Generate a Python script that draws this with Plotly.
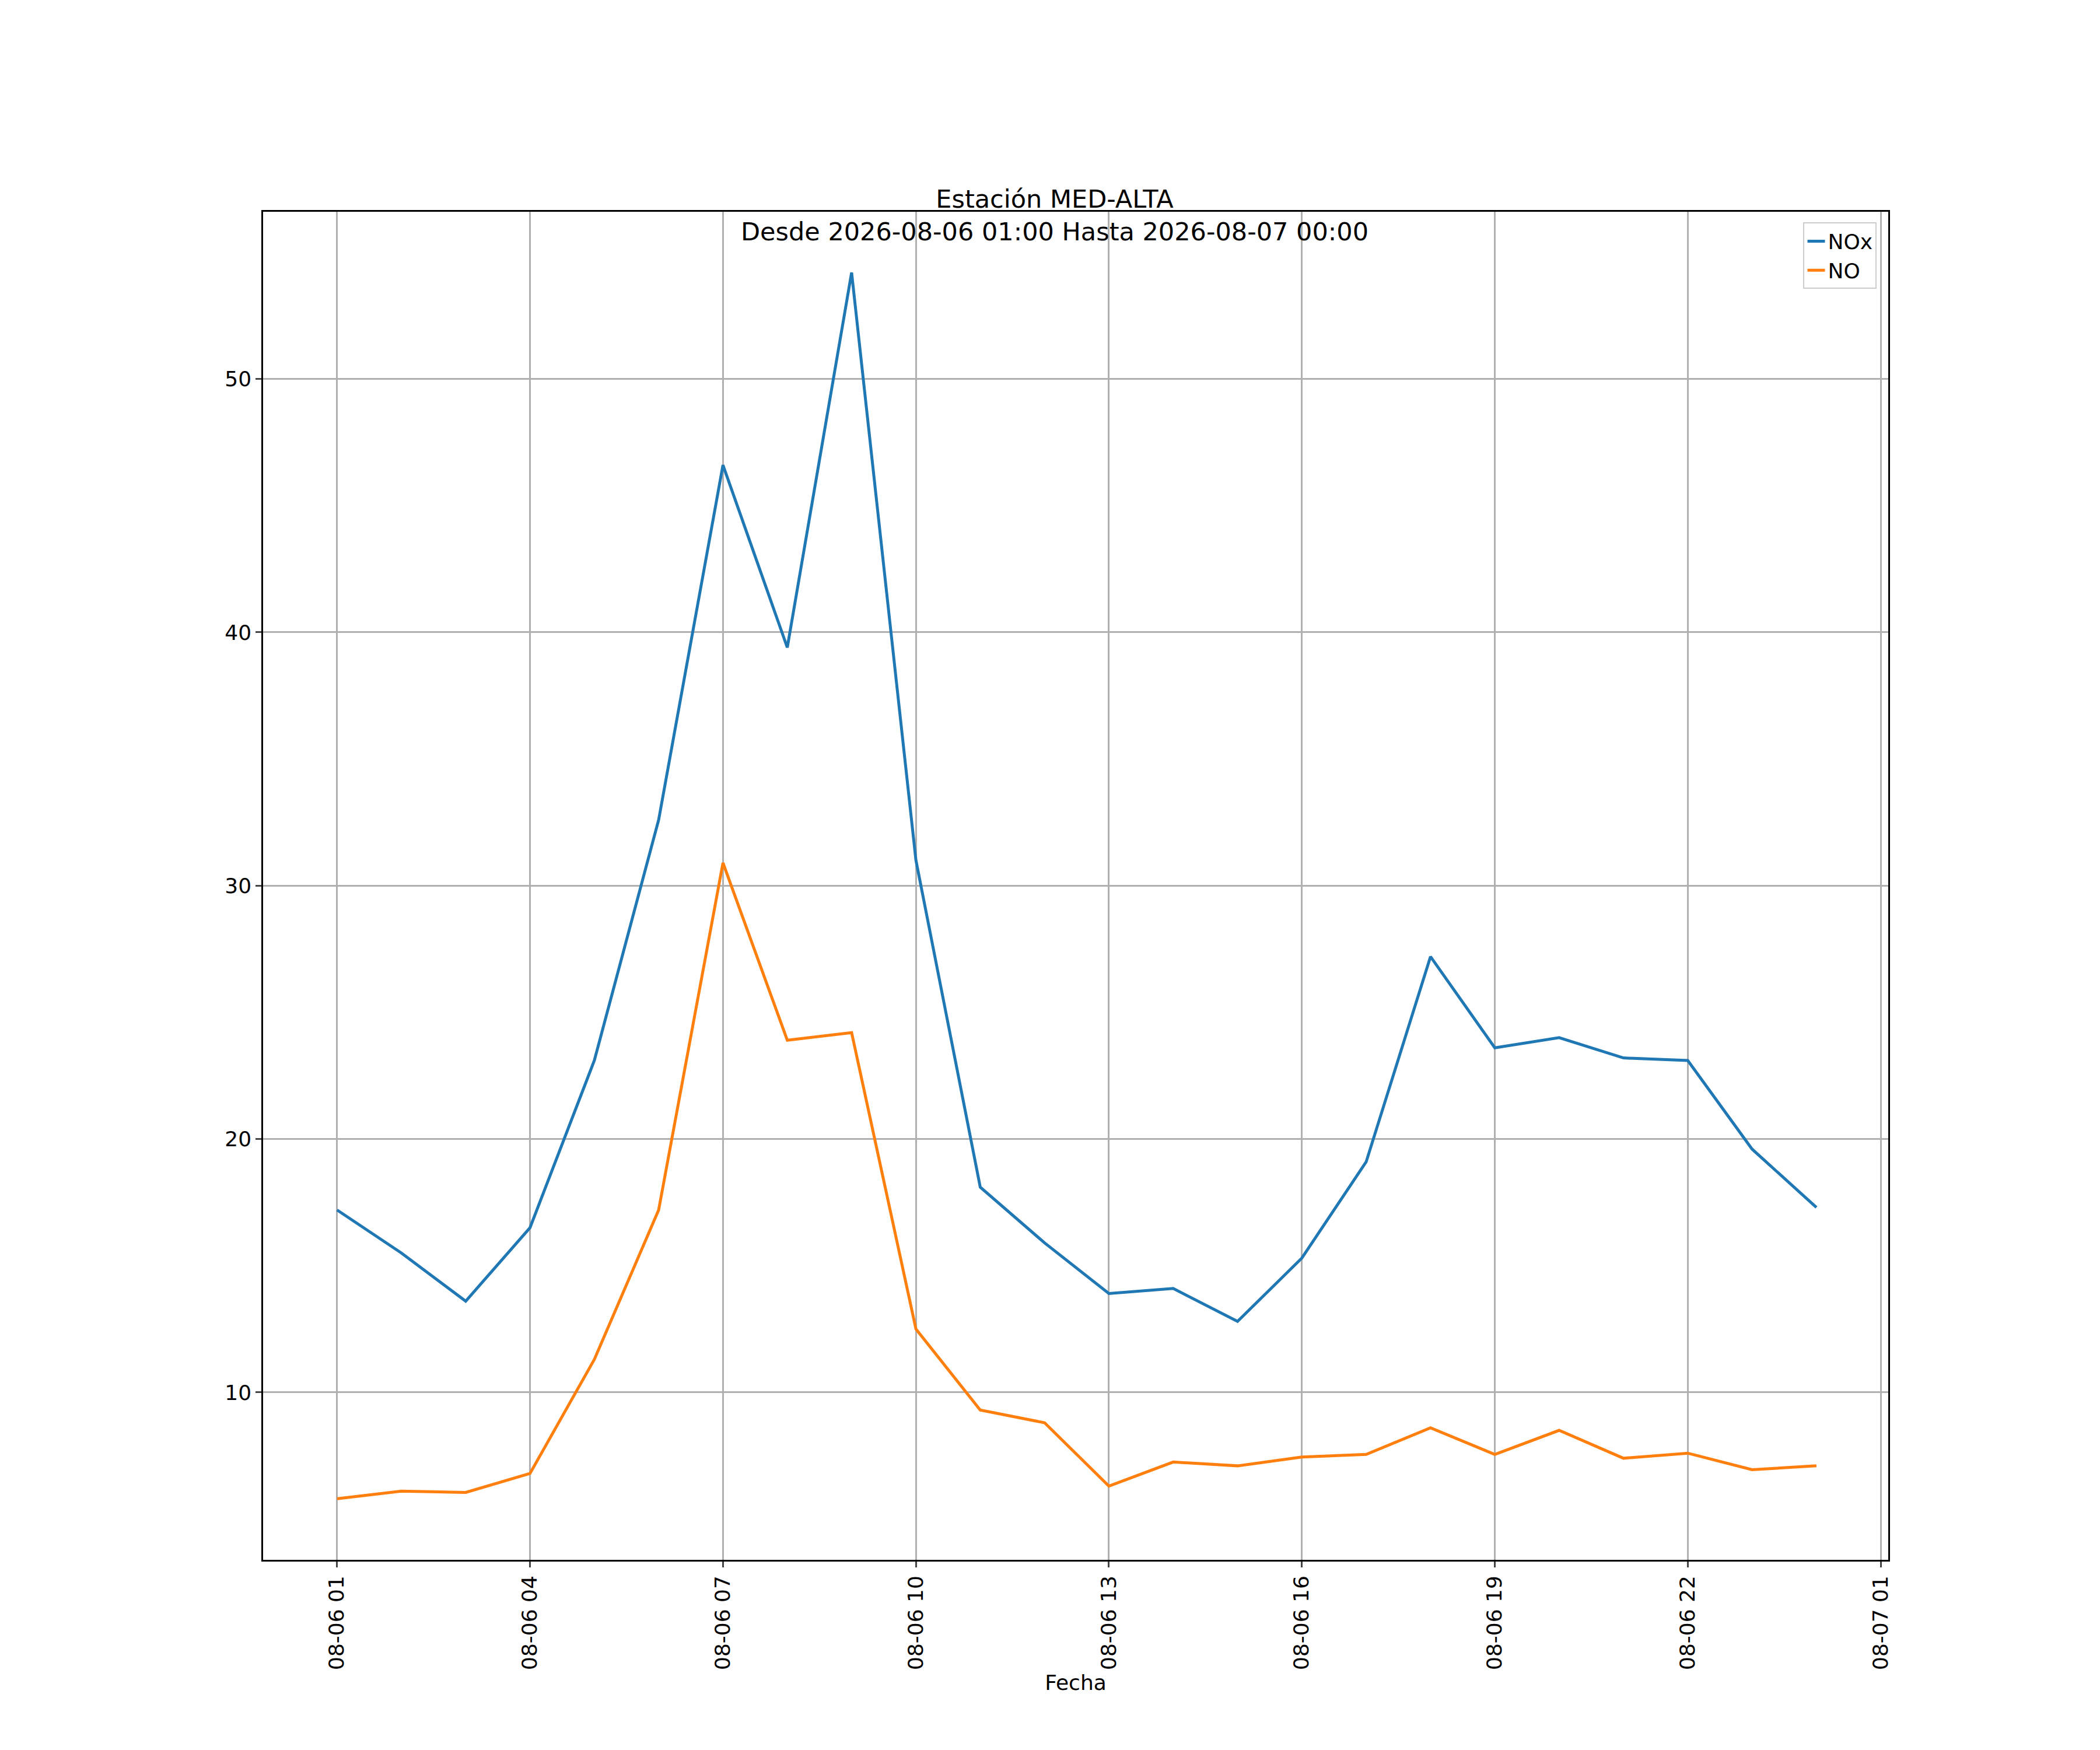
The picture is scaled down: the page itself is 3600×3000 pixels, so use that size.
import plotly.graph_objects as go
import pandas as pd

times = pd.date_range("2026-08-06 01:00", "2026-08-07 00:00", freq="h")
nox = [17.2, 15.5, 13.6, 16.5, 23.1, 32.6, 46.6, 39.4, 54.2, 31.0, 18.1, 15.9,
       13.9, 14.1, 12.8, 15.3, 19.1, 27.2, 23.6, 24.0, 23.2, 23.1, 19.6, 17.3]
no = [5.8, 6.1, 6.05, 6.8, 11.3, 17.2, 30.9, 23.9, 24.2, 12.5, 9.3, 8.8,
      6.3, 7.25, 7.1, 7.45, 7.55, 8.6, 7.55, 8.5, 7.4, 7.6, 6.95, 7.1]
tick_times = pd.date_range("2026-08-06 01:00", "2026-08-07 01:00", freq="3h")
tick_text = [t.strftime("%m-%d %H") for t in tick_times]

fig = go.Figure()
fig.add_trace(go.Scatter(x=times, y=nox, name="NOx", mode="lines", line=dict(color="#1f77b4", width=5)))
fig.add_trace(go.Scatter(x=times, y=no, name="NO", mode="lines", line=dict(color="#ff7f0e", width=5)))

ax = dict(showline=True, linecolor="black", linewidth=2.5, mirror=True, showgrid=True,
          gridcolor="#b0b0b0", gridwidth=2.5, ticks="outside", ticklen=10, tickwidth=2.5,
          zeroline=False, tickfont=dict(size=36, color="black"))
fig.update_layout(
    width=3600, height=3000, plot_bgcolor="white", paper_bgcolor="white",
    font=dict(family="DejaVu Sans", color="black"),
    margin=dict(l=443, r=371, t=355, b=334),
    title=dict(text="Estación MED-ALTA<br>Desde 2026-08-06 01:00 Hasta 2026-08-07 00:00",
               x=0.5, xanchor="center", y=0.884, yanchor="bottom", font=dict(size=43)),
    legend=dict(x=0.993, y=0.992, xanchor="right", yanchor="top", bordercolor="#cccccc",
                borderwidth=2, font=dict(size=36), bgcolor="white"),
    showlegend=True,
)
fig.update_xaxes(**ax, range=[pd.Timestamp("2026-08-05 23:51"), pd.Timestamp("2026-08-07 01:07")],
                 tickvals=tick_times, ticktext=tick_text, tickangle=-90,
                 title=dict(text="Fecha", font=dict(size=36), standoff=10))
fig.update_yaxes(**ax, range=[3.39, 56.6], tickvals=[10, 20, 30, 40, 50])
fig.write_html("out.html")
